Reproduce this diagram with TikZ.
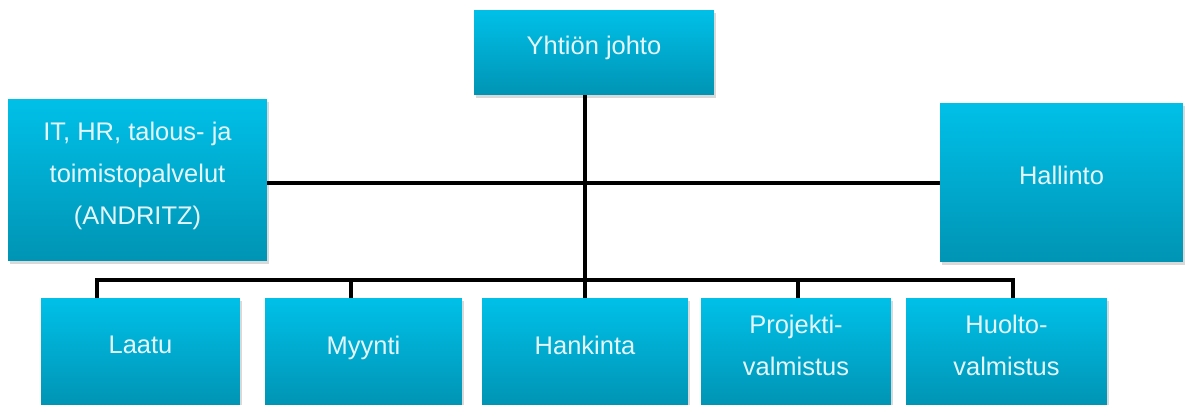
\documentclass[tikz,border=0pt]{standalone}
\usepackage{fontspec}
\setmainfont{Liberation Sans}
\usetikzlibrary{shadows}
\definecolor{boxtop}{HTML}{00C0E8}
\definecolor{boxbottom}{HTML}{0094B4}
\definecolor{boxtext}{HTML}{E4F6FB}
\begin{document}
\begin{tikzpicture}
	[x=0.02cm,y=-0.02cm,
	box/.style={rectangle,inner sep=0pt,top color=boxtop,bottom color=boxbottom,text=boxtext,align=center,
		font=\fontsize{14.5}{24}\selectfont,execute at end node={\rule[-8pt]{0pt}{8pt}},
		drop shadow={shadow xshift=1pt,shadow yshift=-1.5pt,opacity=0.3}},
	low/.style={box,minimum height=2.16cm},
	link/.style={line width=2.2pt,black}]
\useasboundingbox (0,0) rectangle (1187,405);
\clip (0,0) rectangle (1187,405);
\node[box,minimum width=4.8cm,minimum height=1.7cm] (johto) at (594,52.5) {Yhtiön johto};
\node[box,minimum width=5.18cm,minimum height=3.24cm] (it) at (137.5,180) {IT, HR, talous- ja\\toimistopalvelut\\(ANDRITZ)};
\node[box,minimum width=4.86cm,minimum height=3.18cm] (hallinto) at (1061.5,182.5) {Hallinto};
\node[low,minimum width=3.98cm] (laatu) at (140.5,352) {Laatu};
\node[low,minimum width=3.94cm] (myynti) at (363.5,352) {Myynti};
\node[low,minimum width=4.12cm] (hankinta) at (585,352) {Hankinta};
\node[low,minimum width=3.8cm] (projekti) at (796,352) {Projekti-\\valmistus};
\node[low,minimum width=4.02cm] (huolto) at (1006.5,352) {Huolto-\\valmistus};
\coordinate (mid) at (585,183);
\coordinate (b1) at (97,280);
\coordinate (b2) at (351,280);
\coordinate (b3) at (798,280);
\coordinate (b4) at (1013,280);
\draw[link] (johto.south -| mid)--(hankinta.north);
\draw[link] (mid -| it.east)--(mid -| hallinto.west);
\draw[link] (b1 |- laatu.north)--(b1)--(b4)--(b4 |- huolto.north);
\draw[link] (b2)--(b2 |- myynti.north);
\draw[link] (b3)--(b3 |- projekti.north);
\end{tikzpicture}
\end{document}
